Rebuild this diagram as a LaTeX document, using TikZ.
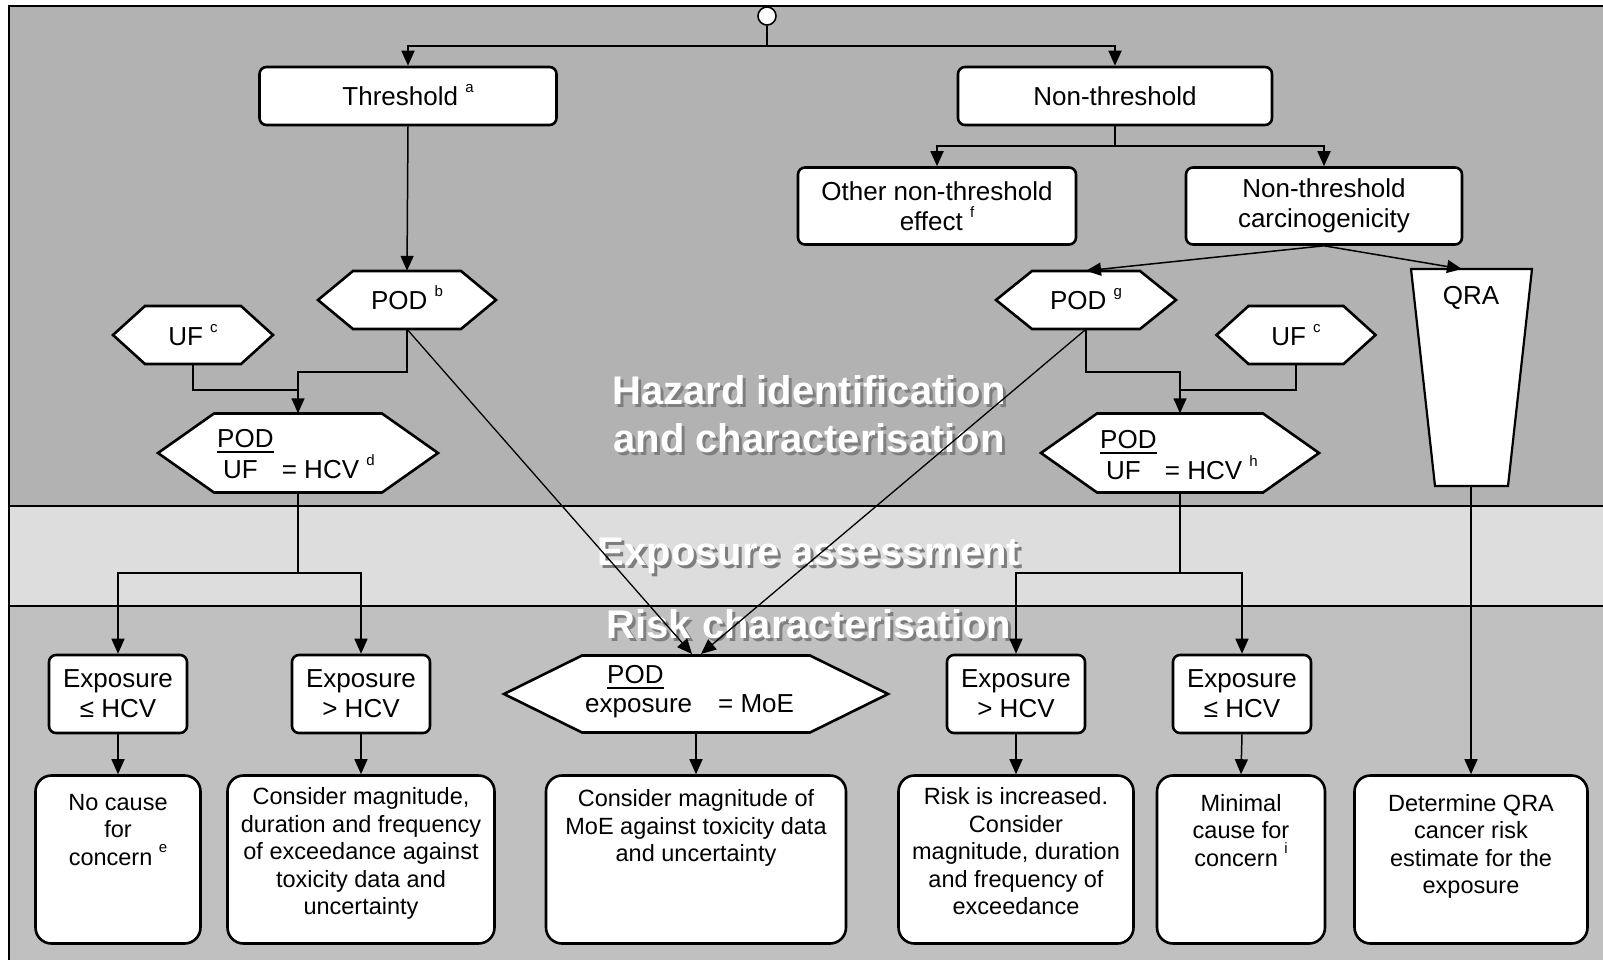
\documentclass[tikz,border=0pt]{standalone}
\usepackage{fontspec}
\setmainfont{Liberation Sans}
\usetikzlibrary{arrows.meta,calc}
\definecolor{hazc}{HTML}{B2B2B2}
\definecolor{expc}{HTML}{DDDDDD}
\definecolor{riskc}{HTML}{C0C0C0}
\definecolor{shadc}{HTML}{7E7E7E}
\newcommand\supx[1]{\smash{\raisebox{12.5pt}{\fontsize{15}{15}\selectfont #1}}}
\newcommand\ulpod[1]{\setbox0\hbox{#1}\rlap{\rule[-5.5pt]{\wd0}{2pt}}\box0}
\newcommand\mlines[1]{\begin{tabular}[t]{@{}c@{}}#1\end{tabular}}
\newcommand\hexag[6]{%
  \path[hexline] ({#2-#4/2},#3) -- ({#2-#4/2+#6},{#3-#5/2}) -- ({#2+#4/2-#6},{#3-#5/2}) -- ({#2+#4/2},#3) -- ({#2+#4/2-#6},{#3+#5/2}) -- ({#2-#4/2+#6},{#3+#5/2}) -- cycle;
  \node[inner sep=0pt, minimum width=#4pt, minimum height=#5pt] (#1) at (#2,#3) {};}
\tikzset{
  txt/.style={font=\fontsize{26}{30}\selectfont, align=center, inner sep=0pt},
  lbl/.style={font=\fontsize{26}{30}\selectfont, inner sep=0pt},
  btxt/.style={font=\fontsize{23.5}{27.5}\selectfont, inner sep=0pt, anchor=base},
  rbox/.style={txt, draw, fill=white, line width=2.6pt, rounded corners=7pt},
  bbox/.style={draw, fill=white, line width=2.6pt, rounded corners=16pt, inner sep=0pt},
  hexline/.style={draw, fill=white, line width=2.6pt, line join=miter},
  conn/.style={line width=1.5pt},
  arr/.style={conn, -{Triangle[length=15pt,width=13pt]}},
  ttl/.style={font=\fontsize{40}{47}\selectfont\bfseries, text=white, inner sep=0pt, anchor=base},
  ttls/.style={ttl, text=shadc},
  circ/.style={circle, draw, fill=white, line width=1.6pt, minimum size=18pt, inner sep=0pt},
}
\begin{document}
\begin{tikzpicture}[x=1pt,y=-1pt]
\useasboundingbox (0,0) rectangle (1603,960);
\clip (0,0) rectangle (1603,960);
% bands
\fill[hazc] (9,6) rectangle (1610,506);
\fill[expc] (9,506) rectangle (1610,606);
\fill[riskc] (9,606) rectangle (1610,970);
\draw[line width=2pt] (9,970) -- (9,6) -- (1610,6);
\draw[line width=1.8pt] (9,506) -- (1610,506);
\draw[line width=1.8pt] (9,606) -- (1610,606);
% band titles
\node[ttls] (h1s) at (812,407) {Hazard identification};
\node[ttl]  (h1)  at (809,404) {Hazard identification};
\node[ttls] (h2s) at (812,455) {and characterisation};
\node[ttl]  (h2)  at (809,452) {and characterisation};
\node[ttls] (e1s) at (812,568) {Exposure assessment};
\node[ttl]  (e1)  at (809,565) {Exposure assessment};
\node[ttls] (r1s) at (812,641) {Risk characterisation};
\node[ttl]  (r1)  at (809,638) {Risk characterisation};
% top nodes
\node[circ] (start) at (767,16) {};
\node[rbox, minimum width=297pt, minimum height=58pt] (thr) at (408,96) {Threshold \supx{a}};
\node[rbox, minimum width=314pt, minimum height=58pt] (nthr) at (1115,96) {Non-threshold};
\node[rbox, minimum width=278pt, minimum height=77pt] (other) at (937,206) {Other non-threshold\\effect \supx{f}};
\node[rbox, minimum width=276pt, minimum height=77pt] (carc) at (1324,206) {Non-threshold\\carcinogenicity};
% hexagons left
\hexag{podb}{407}{300}{178}{58}{35}
\node[lbl, anchor=base] (podbt) at (407,309) {POD \supx{b}};
\hexag{ufl}{193}{335}{160}{58}{32}
\node[lbl, anchor=base] (uflt) at (193,345) {UF \supx{c}};
\hexag{hcvd}{298}{453}{280}{79}{56}
\node[lbl, anchor=base west] (hcvdt) at (217,447) {\begin{tabular}[t]{@{}l@{}}\ulpod{POD}\\[1pt]\hspace{6pt}UF\hspace{24pt}= HCV \supx{d}\end{tabular}};
% hexagons right
\hexag{podg}{1086}{300}{180}{58}{36}
\node[lbl, anchor=base] (podgt) at (1086,309) {POD \supx{g}};
\hexag{ufr}{1296}{335}{159}{58}{32}
\node[lbl, anchor=base] (ufrt) at (1296,345) {UF \supx{c}};
\hexag{hcvh}{1180}{453}{278}{79}{56}
\node[lbl, anchor=base west] (hcvht) at (1100,448) {\begin{tabular}[t]{@{}l@{}}\ulpod{POD}\\[1pt]\hspace{6pt}UF\hspace{24pt}= HCV \supx{h}\end{tabular}};
% MoE
\hexag{moe}{696}{694}{384}{77}{78}
\node[lbl, anchor=base west] (moet) at (585,683) {\begin{tabular}[t]{@{}l@{}}\hspace{22pt}\ulpod{POD}\\[-1pt]exposure\hspace{26pt}= MoE\end{tabular}};
% QRA
\path[hexline, line width=2.2pt] (1411,269) -- (1532,269) -- (1508,486) -- (1435,486) -- cycle;
\node[lbl, anchor=base] (qra) at (1471,304) {QRA};
\coordinate (qratop) at (1462,269);
\coordinate (qrabot) at (1471,486);
% exposure boxes
\node[rbox, minimum width=138pt, minimum height=78pt] (exl) at (118,694) {Exposure\\≤ HCV};
\node[rbox, minimum width=138pt, minimum height=78pt] (exg) at (361,694) {Exposure\\> HCV};
\node[rbox, minimum width=138pt, minimum height=78pt] (exgr) at (1016,694) {Exposure\\> HCV};
\node[rbox, minimum width=138pt, minimum height=78pt] (exlr) at (1242,694) {Exposure\\≤ HCV};
% bottom boxes
\node[bbox, minimum width=165pt, minimum height=168pt] (b1) at (118,859.5) {};
\node[bbox, minimum width=267pt, minimum height=168pt] (b2) at (361,859.5) {};
\node[bbox, minimum width=300pt, minimum height=168pt] (b3) at (696,859.5) {};
\node[bbox, minimum width=235pt, minimum height=168pt] (b4) at (1016,859.5) {};
\node[bbox, minimum width=168pt, minimum height=168pt] (b5) at (1241,859.5) {};
\node[bbox, minimum width=233pt, minimum height=168pt] (b6) at (1471,859.5) {};
\node[btxt] (b1t) at (118,810) {\mlines{No cause\\for\\concern \supx{e}}};
\node[btxt] (b2t) at (361,804.5) {\mlines{Consider magnitude,\\duration and frequency\\of exceedance against\\toxicity data and\\uncertainty}};
\node[btxt] (b3t) at (696,806.5) {\mlines{Consider magnitude of\\MoE against toxicity data\\and uncertainty}};
\node[btxt] (b4t) at (1016,804.5) {\mlines{Risk is increased.\\Consider\\magnitude, duration\\and frequency of\\exceedance}};
\node[btxt] (b5t) at (1241,811) {\mlines{Minimal\\cause for\\concern \supx{i}}};
\node[btxt] (b6t) at (1471,811) {\mlines{Determine QRA\\cancer risk\\estimate for the\\exposure}};
% connectors
\coordinate (s0) at (767,46);
\draw[conn, line width=1.8pt] (start.south) -- (s0);
\draw[arr, line width=1.8pt] (s0) -| (thr.north);
\draw[arr, line width=1.8pt] (s0) -| (nthr.north);
\coordinate (s1) at (1115,146);
\draw[conn, line width=1.8pt] (nthr.south) -- (s1);
\draw[arr, line width=1.8pt] (s1) -| (other.north);
\draw[arr, line width=1.8pt] (s1) -| (carc.north);
\draw[arr] (thr.south) -- (podb.north);
\draw[arr] (carc.south) -- (podg.north);
\draw[arr] (carc.south) -- (qratop);
\coordinate (j1) at (298,372);
\coordinate (j2) at (298,390);
\draw[arr] (podb.south) |- (j1) -- (hcvd.north);
\draw[conn] (ufl.south) |- (j2);
\coordinate (j3) at (1180,372);
\coordinate (j4) at (1180,390);
\draw[arr] (podg.south) |- (j3) -- (hcvh.north);
\draw[conn] (ufr.south) |- (j4);
\coordinate (m1) at (692,654);
\coordinate (m2) at (701,654);
\draw[arr, line width=1.3pt] (podb.south) -- (m1);
\draw[arr, line width=1.3pt] (podg.south) -- (m2);
\coordinate (s2) at (298,573);
\draw[conn] (hcvd.south) -- (s2);
\draw[arr] (s2) -| (exl.north);
\draw[arr] (s2) -| (exg.north);
\coordinate (s3) at (1180,573);
\draw[conn] (hcvh.south) -- (s3);
\draw[arr] (s3) -| (exgr.north);
\draw[arr] (s3) -| (exlr.north);
\draw[arr] (qrabot) -- (b6.north);
\draw[arr] (exl.south) -- (b1.north);
\draw[arr] (exg.south) -- (b2.north);
\draw[arr] (moe.south) -- (b3.north);
\draw[arr] (exgr.south) -- (b4.north);
\draw[arr] (exlr.south) -- (b5.north);
\end{tikzpicture}
\end{document}
